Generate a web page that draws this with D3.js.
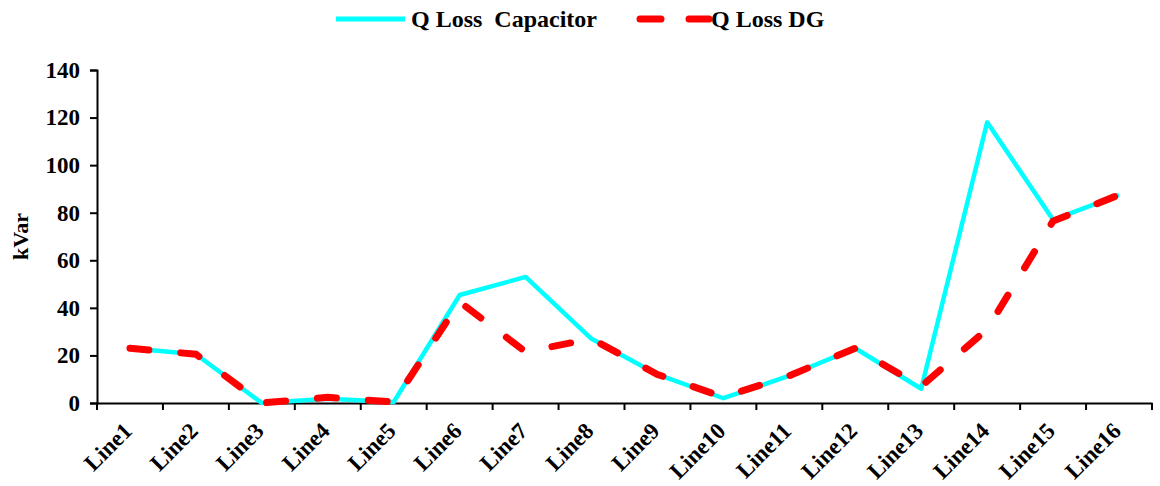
<!DOCTYPE html>
<html><head><meta charset="utf-8">
<script src="https://cdn.jsdelivr.net/npm/d3@7"></script>
<style>body{margin:0;background:#fff}svg{display:block}text{font-family:"Liberation Serif","Times New Roman",serif;font-weight:bold;fill:#000}</style>
</head><body><svg id="c" width="1160" height="486"></svg>
<script>
const categories = ["Line1","Line2","Line3","Line4","Line5","Line6","Line7","Line8","Line9","Line10","Line11","Line12","Line13","Line14","Line15","Line16"];
const qLossCapacitor = [23, 20.5, 0, 1.8, 0.4, 45.4, 53, 27, 12, 2, 11.5, 23, 6, 118, 77, 87.5];
const qLossDG = [23, 20.5, 0, 2.4, 0.4, 42.5, 21.5, 27, 12, 2.5, 11.5, 23, 7, 31, 76.5, 87.5];
const yTicks = [0, 20, 40, 60, 80, 100, 120, 140];
const seriesNames = ["Q Loss  Capacitor", "Q Loss DG"];

const svg = d3.select("#c");
const m = {l: 97, r: 1152, t: 70, b: 403};
const x = d3.scaleBand().domain(categories).range([m.l, m.r]);
const y = d3.scaleLinear().domain([0, 140]).range([m.b, m.t]);

const yAx = svg.append("g").attr("transform", `translate(${m.l},0)`)
  .call(d3.axisLeft(y).tickValues(yTicks).tickSize(7).tickPadding(10));
yAx.select(".domain").attr("stroke", "#000").attr("stroke-width", 2);
yAx.selectAll(".tick line").attr("stroke-width", 2);
yAx.selectAll("text").style("font-size", "23px").attr("fill", "#000");

const xAx = svg.append("g").attr("transform", `translate(0,${m.b})`)
  .call(d3.axisBottom(x).tickSize(0).tickFormat(""));
xAx.select(".domain").attr("stroke", "#000").attr("stroke-width", 2);
xAx.selectAll(".tick").remove();
const bounds = categories.map(c => x(c)).concat([m.r]);
xAx.selectAll("line.bt").data(bounds).enter().append("line")
  .attr("x1", d => d).attr("x2", d => d).attr("y1", 0).attr("y2", 7)
  .attr("stroke", "#000").attr("stroke-width", 2);
xAx.selectAll("text.lab").data(categories).enter().append("text")
  .attr("transform", d => `translate(${x(d) + x.bandwidth()/2 - 8},${18}) rotate(-45)`)
  .attr("text-anchor", "end").attr("dy", "0.7em").attr("fill", "#000")
  .style("font-size", "23px").text(d => d);

svg.append("text").attr("transform", `translate(28,${(m.t+m.b)/2}) rotate(-90)`)
  .attr("text-anchor", "middle").style("font-size", "22px").text("kVar");

const line = d3.line().x((d, i) => x(categories[i]) + x.bandwidth()/2).y(d => y(d));
svg.append("path").datum(qLossCapacitor).attr("d", line)
  .attr("fill", "none").attr("stroke", "#00FFFF").attr("stroke-width", 4.5).attr("stroke-linejoin", "round");
svg.append("path").datum(qLossDG).attr("d", line)
  .attr("fill", "none").attr("stroke", "#FF0000").attr("stroke-width", 7)
  .attr("stroke-linecap", "round").attr("stroke-dasharray", "19,32");

const lg = svg.append("g");
lg.append("line").attr("x1", 336).attr("x2", 405).attr("y1", 19).attr("y2", 19)
  .attr("stroke", "#00FFFF").attr("stroke-width", 5);
lg.append("text").attr("x", 411).attr("y", 27).style("font-size", "24px").attr("xml:space","preserve").style("white-space","pre").text(seriesNames[0]);
lg.append("line").attr("x1", 640).attr("x2", 709).attr("y1", 19).attr("y2", 19)
  .attr("stroke", "#FF0000").attr("stroke-width", 7).attr("stroke-linecap", "round").attr("stroke-dasharray", "21,28");
lg.append("text").attr("x", 711).attr("y", 27).style("font-size", "24px").text(seriesNames[1]);
</script></body></html>
